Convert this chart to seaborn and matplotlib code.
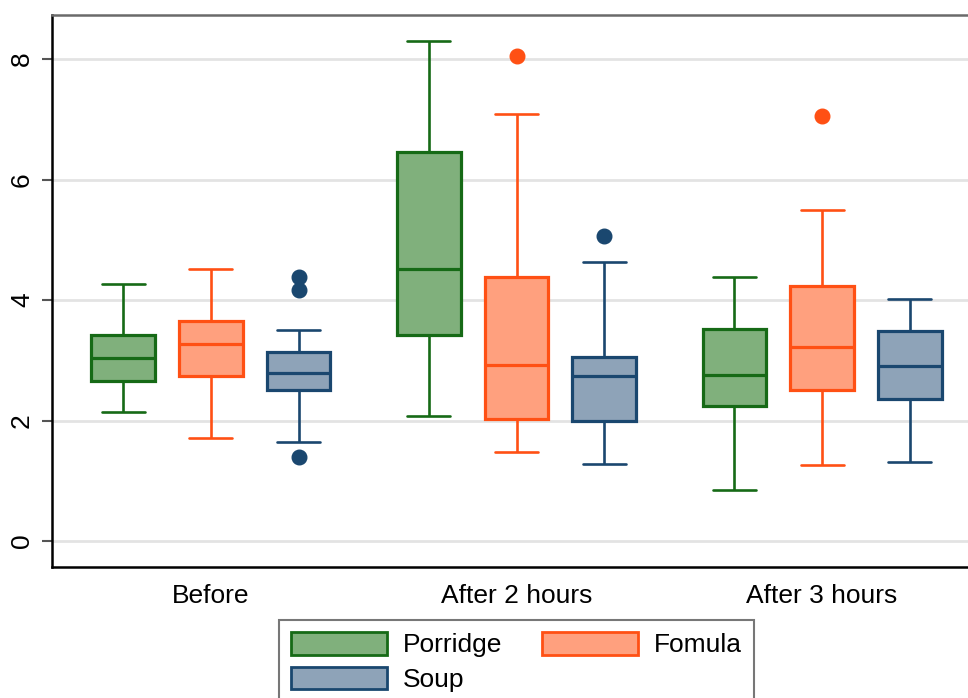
import numpy as np
import pandas as pd
import matplotlib
matplotlib.use("Agg")
import matplotlib.pyplot as plt
import matplotlib.patches as mpatches
import seaborn as sns

# ---------------- data ----------------
times = ["Before", "After 2 hours", "After 3 hours"]
foods = ["Porridge", "Fomula", "Soup"]

# box statistics per food, one entry per time point
whis_lo = {"Porridge": [2.15, 2.07, 0.84],
           "Fomula":   [1.71, 1.48, 1.26],
           "Soup":     [1.64, 1.28, 1.32]}
q1 = {"Porridge": [2.65, 3.42, 2.24],
      "Fomula":   [2.74, 2.03, 2.50],
      "Soup":     [2.50, 1.99, 2.35]}
median = {"Porridge": [3.03, 4.51, 2.75],
          "Fomula":   [3.27, 2.93, 3.22],
          "Soup":     [2.79, 2.74, 2.90]}
q3 = {"Porridge": [3.42, 6.46, 3.52],
      "Fomula":   [3.65, 4.38, 4.23],
      "Soup":     [3.14, 3.06, 3.49]}
whis_hi = {"Porridge": [4.26, 8.30, 4.39],
           "Fomula":   [4.51, 7.09, 5.49],
           "Soup":     [3.51, 4.63, 4.02]}
outliers = {"Porridge": [[], [], []],
            "Fomula":   [[], [8.05], [7.06]],
            "Soup":     [[1.39, 4.17, 4.38], [5.07], []]}

fills = ["#80b07c", "#ffa07e", "#8ea3b8"]
edges = ["#166a16", "#ff5014", "#1a476f"]

# build long table whose quartiles/whiskers reproduce the boxes above
rows = []
for food in foods:
    for i, t in enumerate(times):
        vals = (outliers[food][i] + [whis_lo[food][i]] + [q1[food][i]] * 10
                + [median[food][i]] * 5 + [q3[food][i]] * 10 + [whis_hi[food][i]])
        rows += [(t, food, v) for v in vals]
df = pd.DataFrame(rows, columns=["time", "food", "value"])

# ---------------- plot ----------------
sns.set_style("white")
plt.rcParams["font.family"] = ["Liberation Sans", "DejaVu Sans"]
plt.rcParams["text.color"] = "black"
plt.rcParams["xtick.color"] = "black"
plt.rcParams["ytick.color"] = "black"

fig = plt.figure(figsize=(9.68, 6.98), dpi=100)
ax = fig.add_axes([52 / 968, 131 / 698, 929 / 968, 552 / 698])

sns.boxplot(data=df, x="time", y="value", hue="food", order=times,
            hue_order=foods, palette=fills, saturation=1, width=0.86, gap=0.27,
            linewidth=2.2, whis=1.5, legend=False, ax=ax)

for cont, ec in zip(ax.containers, edges):
    for b in cont.boxes:
        b.set_edgecolor(ec)
        b.set_linewidth(2.3)
    for m in cont.medians:
        m.set_color(ec)
        m.set_linewidth(2.3)
    for w in cont.whiskers:
        w.set_color(ec)
        w.set_linewidth(1.9)
    for c in cont.caps:
        c.set_color(ec)
        c.set_linewidth(1.9)
        xd = np.asarray(c.get_xdata(), dtype=float)
        mid = xd.mean()
        c.set_xdata(mid + (xd - mid) * 1.34)
    for f in cont.fliers:
        f.set_marker("o")
        f.set_markerfacecolor(ec)
        f.set_markeredgecolor(ec)
        f.set_markersize(10.5)

ax.set_ylim(-0.43, 8.73)
ax.set_xlim(-0.52, 2.52)
ax.set_yticks([0, 2, 4, 6, 8])
ax.set(xlabel="", ylabel="")
ax.yaxis.grid(True, color="#e3e3e3", linewidth=2)
ax.set_axisbelow(True)

for s in ["left", "bottom"]:
    ax.spines[s].set_color("black")
    ax.spines[s].set_linewidth(1.8)
ax.spines["top"].set_color("#6a6a6a")
ax.spines["top"].set_linewidth(1.8)
ax.spines["right"].set_visible(False)

ax.tick_params(axis="y", left=True, length=7, width=1.5, color="#555555",
               labelcolor="black", pad=6, labelsize=19, labelrotation=90)
for lab in ax.get_yticklabels():
    lab.set_va("center")
ax.tick_params(axis="x", bottom=False, length=0, pad=12, labelsize=19,
               labelcolor="black")

# legend (two columns: Porridge / Fomula on first row, Soup on second)
handles = [mpatches.Patch(facecolor=fills[k], edgecolor=edges[k], linewidth=2,
                          label=foods[k]) for k in [0, 2, 1]]
leg = ax.legend(handles=handles, loc="upper center", bbox_to_anchor=(0.5, -0.096),
                ncol=2, fontsize=19, frameon=True, fancybox=False,
                borderaxespad=0, borderpad=0.45, handlelength=3.65,
                handleheight=0.95, handletextpad=0.6, columnspacing=1.5,
                labelspacing=0.35)
leg.get_frame().set_edgecolor("#555555")
leg.get_frame().set_linewidth(1.5)
for txt in leg.get_texts():
    txt.set_color("black")

fig.savefig("out.png", dpi=100)
